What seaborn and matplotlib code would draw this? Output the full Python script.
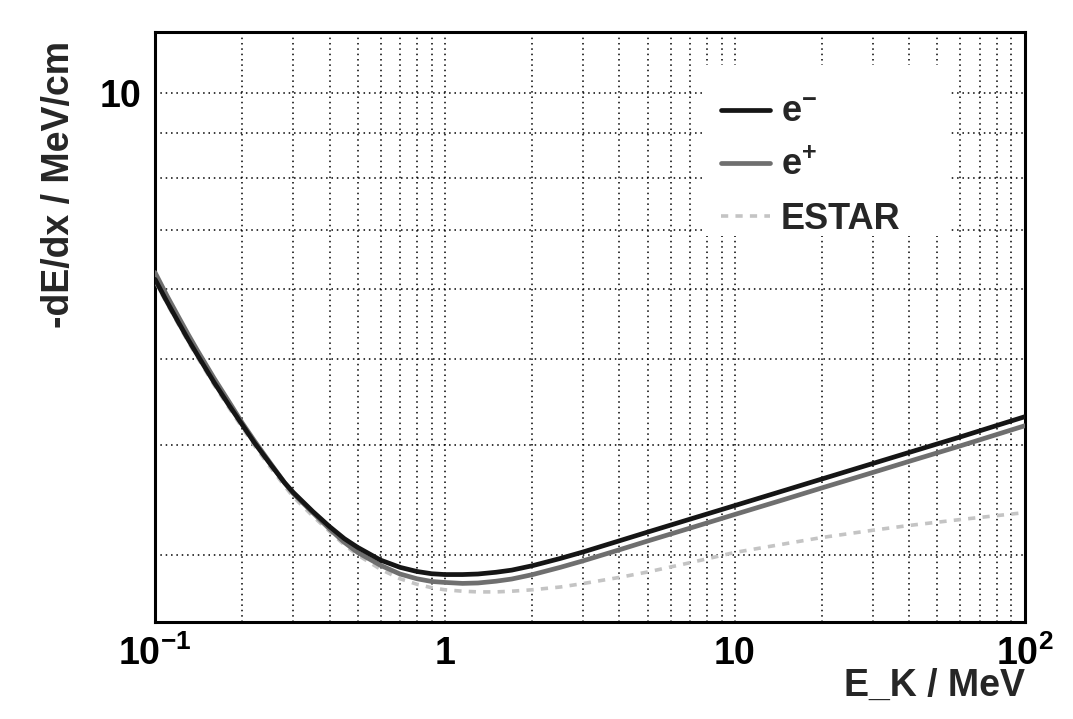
import matplotlib
matplotlib.use('Agg')
import matplotlib.pyplot as plt
import matplotlib.ticker as mticker
from matplotlib.patches import Rectangle
import pandas as pd
import seaborn as sns

# kinetic energy grid (MeV) and stopping powers (MeV/cm)
energy = [0.1, 0.11, 0.12, 0.13, 0.14, 0.16, 0.18, 0.2, 0.22, 0.25, 0.28, 0.3,
          0.35, 0.4, 0.45, 0.5, 0.6, 0.7, 0.8, 0.9, 1.0, 1.15, 1.3, 1.5, 1.7,
          2.0, 2.5, 3, 4, 5, 7, 10, 15, 20, 30, 40, 60, 100]
dedx_electron = [6.15, 5.80, 5.51, 5.26, 5.05, 4.70, 4.43, 4.21, 4.02, 3.80, 3.62, 3.53,
                 3.36, 3.23, 3.13, 3.06, 2.96, 2.905, 2.874, 2.857, 2.851, 2.851, 2.855, 2.868, 2.884,
                 2.917, 2.973, 3.024, 3.113, 3.184, 3.293, 3.412, 3.553, 3.657, 3.808, 3.919, 4.08, 4.30]
dedx_positron = [6.26, 5.89, 5.59, 5.33, 5.11, 4.75, 4.47, 4.23, 4.04, 3.81, 3.62, 3.52,
                 3.35, 3.21, 3.10, 3.02, 2.92, 2.855, 2.82, 2.80, 2.793, 2.786, 2.789, 2.802, 2.818,
                 2.85, 2.905, 2.955, 3.041, 3.111, 3.217, 3.334, 3.471, 3.573, 3.72, 3.829, 3.986, 4.20]
dedx_estar = [6.12, 5.77, 5.48, 5.23, 5.02, 4.67, 4.40, 4.18, 3.99, 3.77, 3.59, 3.49,
              3.32, 3.19, 3.08, 3.00, 2.89, 2.82, 2.78, 2.755, 2.74, 2.73, 2.725, 2.725, 2.73,
              2.74, 2.76, 2.785, 2.83, 2.87, 2.94, 3.02, 3.09, 3.14, 3.20, 3.24, 3.29, 3.35]

x_ticks = [0.1, 1, 10, 100]
x_ticklabels = ['$10^{-1}$', '1', '10', '$10^{2}$']

sns.set_style('white')
plt.rcParams['font.family'] = ['Liberation Sans', 'DejaVu Sans']
plt.rcParams['font.weight'] = 'bold'
plt.rcParams['mathtext.fontset'] = 'custom'
plt.rcParams['mathtext.rm'] = 'Liberation Sans:bold'
plt.rcParams['mathtext.bf'] = 'Liberation Sans:bold'
plt.rcParams['mathtext.it'] = 'Liberation Sans:bold'
plt.rcParams['mathtext.default'] = 'rm'

fig = plt.figure(figsize=(10.73, 7.19), dpi=100)
ax = fig.add_axes([0.1445, 0.135, 0.8105, 0.82])

df = pd.DataFrame({'E': energy, 'em': dedx_electron, 'ep': dedx_positron, 'estar': dedx_estar})

sns.lineplot(data=df, x='E', y='estar', ax=ax, color='#c4c4c4', lw=2.6,
             linestyle=(0, (2, 2)), label='ESTAR', zorder=3)
sns.lineplot(data=df, x='E', y='ep', ax=ax, color='#6f6f6f', lw=3.4, label='e$^{+}$', zorder=4)
sns.lineplot(data=df, x='E', y='em', ax=ax, color='#151515', lw=3.4, label='e$^{-}$', zorder=5)

ax.set_xscale('log')
ax.set_yscale('log')
ax.set_xlim(0.1, 100)
ax.set_ylim(2.52, 11.7)

ax.xaxis.set_major_locator(mticker.FixedLocator(x_ticks))
ax.xaxis.set_major_formatter(mticker.FixedFormatter(x_ticklabels))
ax.xaxis.set_minor_locator(mticker.LogLocator(base=10, subs=range(2, 10), numticks=20))
ax.xaxis.set_minor_formatter(mticker.NullFormatter())
ax.yaxis.set_major_locator(mticker.FixedLocator([10]))
ax.yaxis.set_major_formatter(mticker.FixedFormatter(['10']))
ax.yaxis.set_minor_locator(mticker.FixedLocator([3, 4, 5, 6, 7, 8, 9]))
ax.yaxis.set_minor_formatter(mticker.NullFormatter())

ax.tick_params(axis='both', which='both', direction='in', width=2, colors='black',
               top=False, right=False, labelsize=27)
ax.tick_params(axis='y', which='major', length=18, pad=10)
ax.tick_params(axis='y', which='minor', length=9)
ax.tick_params(axis='x', which='major', length=11, pad=10)
ax.tick_params(axis='x', which='minor', length=6)
for lab in ax.get_xticklabels() + ax.get_yticklabels():
    lab.set_fontweight('bold')

ax.set_axisbelow(True)
ax.grid(True, which='both', color='black', lw=1.1, linestyle=(0, (1, 2.5)))

for s in ax.spines.values():
    s.set_visible(True)
    s.set_color('black')
    s.set_linewidth(2.2)

ax.set_xlabel('E_K / MeV', fontsize=27, fontweight='bold', ha='right', va='top')
ax.xaxis.set_label_coords(1.0, -0.078)
ax.set_ylabel('-dE/dx / MeV/cm', fontsize=27, fontweight='bold', ha='right')
ax.yaxis.set_label_coords(-0.09, 0.985)

# white legend box that hides the grid behind it
ax.add_patch(Rectangle((0.632, 0.655), 0.283, 0.29, transform=ax.transAxes,
                       facecolor='white', edgecolor='none', zorder=1))

handles, labels = ax.get_legend_handles_labels()
order = [2, 1, 0]
leg = ax.legend([handles[i] for i in order], [labels[i] for i in order],
                loc='upper left', bbox_to_anchor=(0.618, 0.942), frameon=False,
                prop={'size': 26, 'weight': 'bold'}, handlelength=1.35,
                handletextpad=0.3, labelspacing=0.5, borderpad=0.3)

fig.savefig('out.png', dpi=100)
